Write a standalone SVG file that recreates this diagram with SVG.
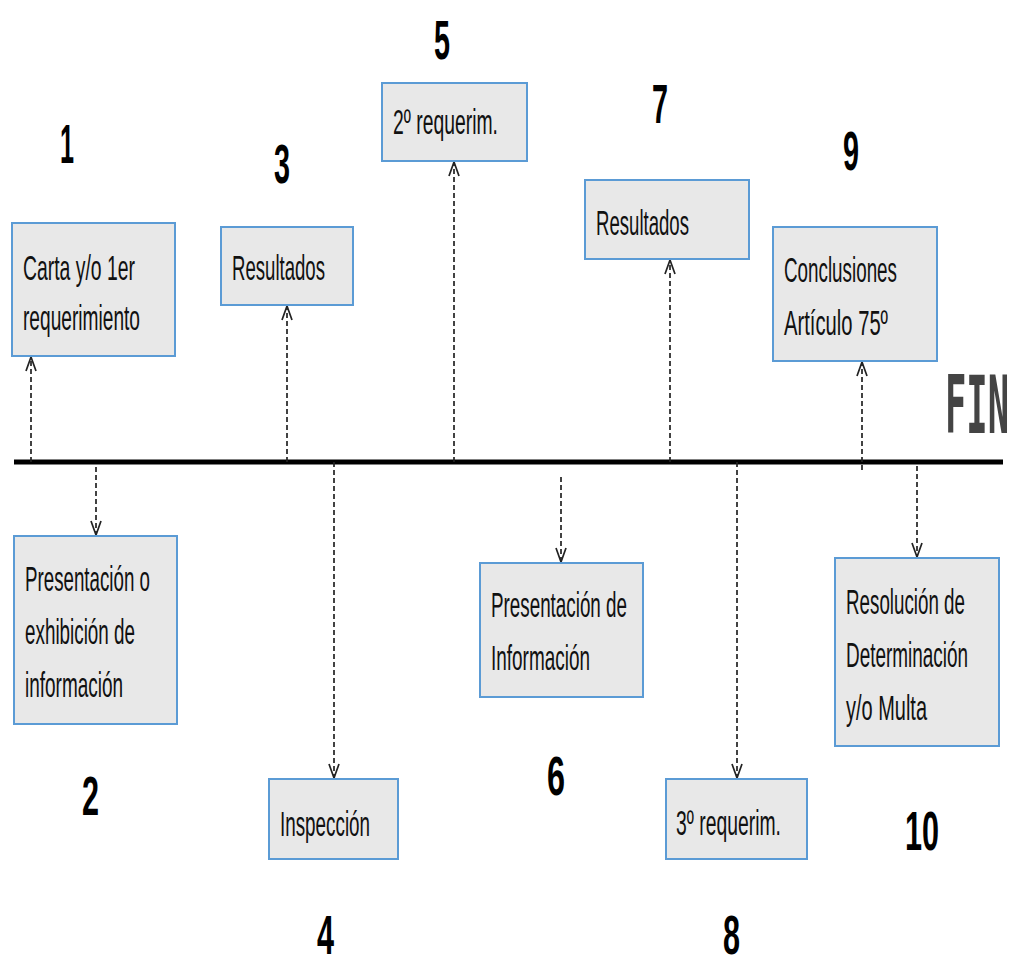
<svg xmlns="http://www.w3.org/2000/svg" width="1016" height="967" viewBox="0 0 1016 967">
<style>
.box{fill:#e8e8e8;stroke:#5b9bd5;stroke-width:2}
.t{font-family:"Liberation Sans",Arial,sans-serif;font-size:35px;fill:#111}
.n{font-family:"Liberation Sans",Arial,sans-serif;font-size:56px;font-weight:bold;fill:#000}
.fin{font-family:"DejaVu Sans Mono","Liberation Mono",monospace;font-size:80px;font-weight:bold;fill:#444}
.c{stroke:#222;stroke-width:1.7;stroke-dasharray:5,3;fill:none;marker-end:url(#ah)}
</style>
<defs>
<marker id="ah" markerUnits="userSpaceOnUse" markerWidth="20" markerHeight="20" refX="0" refY="0" viewBox="-16 -8 20 16" orient="auto">
<path d="M-14,-5 L0,0 L-14,5" fill="none" stroke="#222" stroke-width="1.7" stroke-dasharray="none"/>
</marker>
</defs>
<rect width="1016" height="967" fill="#fff"/>
<g id="timeline">
<line x1="14" y1="462" x2="1003" y2="462" stroke="#000" stroke-width="5"/>
<text class="fin" x="945" y="433" textLength="64" lengthAdjust="spacingAndGlyphs">FIN</text>
</g>
<g id="connectors">
<line class="c" x1="31" y1="462" x2="31" y2="357"/>
<line class="c" x1="96" y1="467" x2="96" y2="535"/>
<line class="c" x1="287" y1="462" x2="287" y2="306"/>
<line class="c" x1="334" y1="462" x2="334" y2="778"/>
<line class="c" x1="454" y1="462" x2="454" y2="162"/>
<line class="c" x1="561" y1="477" x2="561" y2="562"/>
<line class="c" x1="670" y1="462" x2="670" y2="260"/>
<line class="c" x1="737" y1="462" x2="737" y2="778"/>
<line class="c" x1="862" y1="470" x2="862" y2="362"/>
<line class="c" x1="917" y1="466" x2="917" y2="557"/>
</g>
<g id="node1">
<rect class="box" x="12" y="223" width="163" height="133"/>
<text class="t" x="23" y="280" textLength="112" lengthAdjust="spacingAndGlyphs">Carta y/o 1er</text>
<text class="t" x="23" y="330" textLength="117" lengthAdjust="spacingAndGlyphs">requerimiento</text>
<text class="n" x="60" y="163" textLength="14" lengthAdjust="spacingAndGlyphs">1</text>
</g>
<g id="node2">
<rect class="box" x="14" y="536" width="163" height="188"/>
<text class="t" x="25" y="591" textLength="125" lengthAdjust="spacingAndGlyphs">Presentación o</text>
<text class="t" x="25" y="644" textLength="110" lengthAdjust="spacingAndGlyphs">exhibición de</text>
<text class="t" x="25" y="697" textLength="98" lengthAdjust="spacingAndGlyphs">información</text>
<text class="n" x="82" y="815" textLength="17" lengthAdjust="spacingAndGlyphs">2</text>
</g>
<g id="node3">
<rect class="box" x="221" y="227" width="132" height="78"/>
<text class="t" x="232" y="280" textLength="93" lengthAdjust="spacingAndGlyphs">Resultados</text>
<text class="n" x="274" y="183" textLength="16" lengthAdjust="spacingAndGlyphs">3</text>
</g>
<g id="node4">
<rect class="box" x="269" y="779" width="129" height="80"/>
<text class="t" x="280" y="836" textLength="90" lengthAdjust="spacingAndGlyphs">Inspección</text>
<text class="n" x="317" y="954" textLength="17" lengthAdjust="spacingAndGlyphs">4</text>
</g>
<g id="node5">
<rect class="box" x="382" y="83" width="145" height="78"/>
<text class="t" x="393" y="134" textLength="105" lengthAdjust="spacingAndGlyphs">2º requerim.</text>
<text class="n" x="434" y="59" textLength="16" lengthAdjust="spacingAndGlyphs">5</text>
</g>
<g id="node6">
<rect class="box" x="480" y="563" width="163" height="134"/>
<text class="t" x="491" y="617" textLength="136" lengthAdjust="spacingAndGlyphs">Presentación de</text>
<text class="t" x="491" y="670" textLength="99" lengthAdjust="spacingAndGlyphs">Información</text>
<text class="n" x="547" y="795" textLength="18" lengthAdjust="spacingAndGlyphs">6</text>
</g>
<g id="node7">
<rect class="box" x="585" y="180" width="164" height="79"/>
<text class="t" x="596" y="235" textLength="93" lengthAdjust="spacingAndGlyphs">Resultados</text>
<text class="n" x="652" y="123" textLength="16" lengthAdjust="spacingAndGlyphs">7</text>
</g>
<g id="node8">
<rect class="box" x="666" y="779" width="141" height="80"/>
<text class="t" x="676" y="835" textLength="105" lengthAdjust="spacingAndGlyphs">3º requerim.</text>
<text class="n" x="723" y="954" textLength="17" lengthAdjust="spacingAndGlyphs">8</text>
</g>
<g id="node9">
<rect class="box" x="773" y="227" width="164" height="134"/>
<text class="t" x="784" y="282" textLength="113" lengthAdjust="spacingAndGlyphs">Conclusiones</text>
<text class="t" x="784" y="335" textLength="104" lengthAdjust="spacingAndGlyphs">Artículo 75º</text>
<text class="n" x="843" y="170" textLength="16" lengthAdjust="spacingAndGlyphs">9</text>
</g>
<g id="node10">
<rect class="box" x="835" y="558" width="164" height="188"/>
<text class="t" x="846" y="614" textLength="119" lengthAdjust="spacingAndGlyphs">Resolución de</text>
<text class="t" x="846" y="667" textLength="122" lengthAdjust="spacingAndGlyphs">Determinación</text>
<text class="t" x="846" y="720" textLength="81" lengthAdjust="spacingAndGlyphs">y/o Multa</text>
<text class="n" x="905" y="850" textLength="34" lengthAdjust="spacingAndGlyphs">10</text>
</g>
</svg>
